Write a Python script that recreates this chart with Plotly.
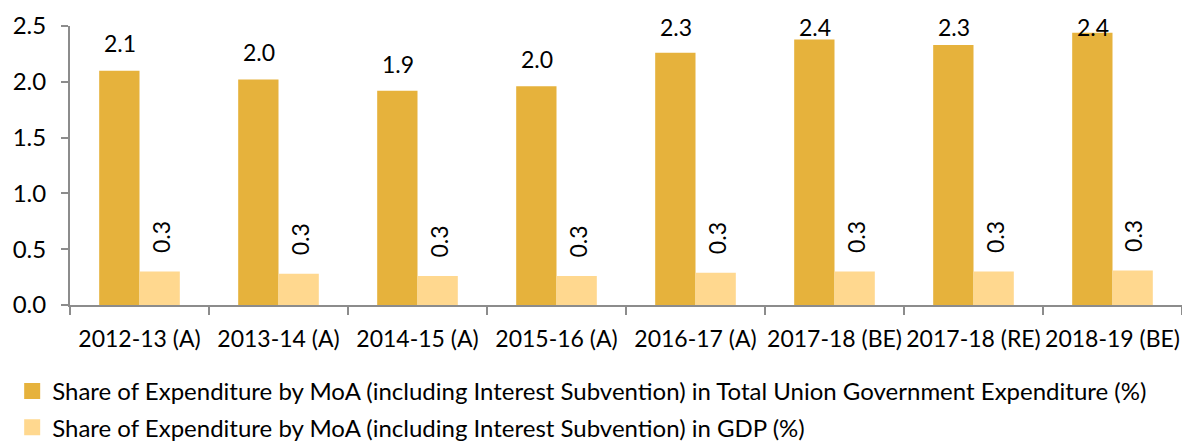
import plotly.graph_objects as go

categories = ["2012-13 (A)", "2013-14 (A)", "2014-15 (A)", "2015-16 (A)",
              "2016-17 (A)", "2017-18 (BE)", "2017-18 (RE)", "2018-19 (BE)"]
share_total_exp = [2.10, 2.02, 1.92, 1.96, 2.26, 2.38, 2.33, 2.44]
share_gdp = [0.30, 0.28, 0.26, 0.26, 0.29, 0.30, 0.30, 0.31]

name_total = "Share of Expenditure by MoA (including Interest Subvention) in Total Union Government Expenditure (%)"
name_gdp = "Share of Expenditure by MoA (including Interest Subvention) in GDP (%)"

FONT = "Lato, 'Open Sans', sans-serif"
DARK = "#E6B23C"
LIGHT = "#FFD88F"
AXIS = "#8C8C8C"

fig = go.Figure()
fig.add_trace(go.Bar(x=categories, y=share_total_exp, name=name_total,
                     showlegend=False,
                     marker=dict(color=DARK, line=dict(width=0))))
fig.add_trace(go.Bar(x=categories, y=share_gdp, name=name_gdp,
                     showlegend=False,
                     marker=dict(color=LIGHT, line=dict(width=0))))
# legend entries with larger square swatches
for nm, col, grp in [(name_total, DARK, "a"), (name_gdp, LIGHT, "b")]:
    fig.add_trace(go.Scatter(x=[None], y=[None], mode="markers", name=nm,
                             legendgroup=grp,
                             marker=dict(symbol="square", size=16, color=col)))

# value labels (kept inside the chart area near the top, like the original)
LABEL_PAD = 0.10
LABEL_CAP = 2.35
for c, v in zip(categories, share_total_exp):
    fig.add_annotation(x=c, y=min(v + LABEL_PAD, LABEL_CAP), text=f"{v:.1f}",
                       showarrow=False, xshift=-20, yanchor="bottom",
                       font=dict(size=23, color="#000000", family=FONT))
for c, v in zip(categories, share_gdp):
    fig.add_annotation(x=c, y=v, text=f"{v:.1f}", showarrow=False,
                       xshift=21, yshift=16, yanchor="bottom", textangle=-90,
                       font=dict(size=23, color="#000000", family=FONT))

fig.update_layout(
    width=1174, height=433,
    margin=dict(l=62, r=0, t=18, b=136, autoexpand=False),
    paper_bgcolor="white", plot_bgcolor="white",
    barmode="group", bargap=0.42, bargroupgap=0,
    font=dict(family=FONT, size=23, color="#000000"),
    legend=dict(orientation="v", x=-0.052, xanchor="left", y=-0.229, yanchor="top",
                font=dict(size=24), traceorder="grouped", itemsizing="trace",
                tracegroupgap=2, bgcolor="rgba(0,0,0,0)"),
    xaxis=dict(showline=True, linecolor=AXIS, linewidth=2, automargin=False,
               ticks="outside", tickson="boundaries", ticklen=8, tickcolor=AXIS,
               tickwidth=2, tickangle=0, tickfont=dict(size=23),
               ticklabelstandoff=12),
    yaxis=dict(range=[0, 2.5], dtick=0.5, tickformat=".1f", automargin=False,
               showline=True, linecolor=AXIS, linewidth=2,
               ticks="outside", ticklen=7, tickcolor=AXIS, tickwidth=2,
               showgrid=False, zeroline=False, tickfont=dict(size=24),
               ticklabelstandoff=10),
)

fig.write_html("out.html")
